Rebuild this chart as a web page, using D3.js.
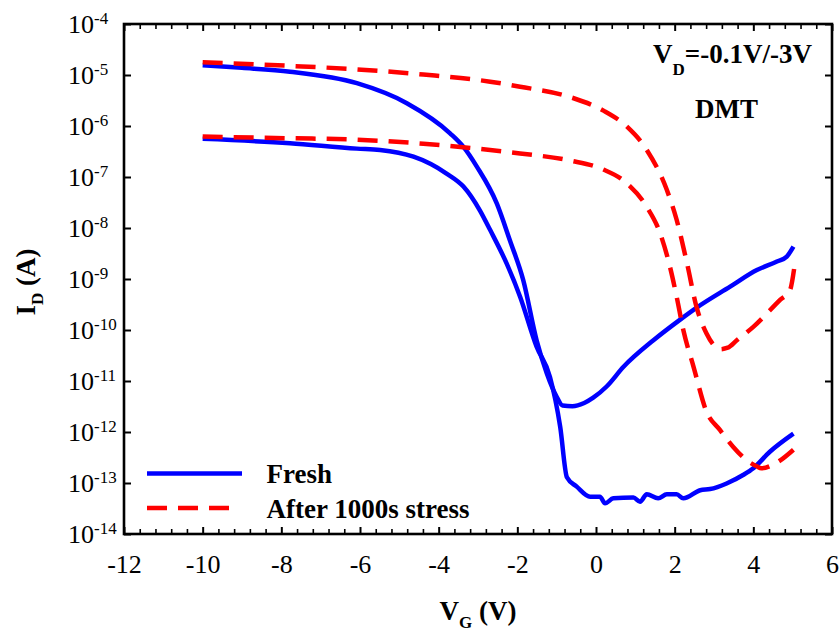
<!DOCTYPE html>
<html>
<head>
<meta charset="utf-8">
<script src="https://cdn.jsdelivr.net/npm/d3@7"></script>
<style>
  html, body { margin: 0; padding: 0; background: #fff; }
  svg { display: block; }
  text { font-family: "Liberation Serif", "Times New Roman", serif; fill: #000; }
</style>
</head>
<body>
<svg id="chart" width="840" height="631"></svg>
<script>
// Transfer curves I_D vs V_G, fresh device and after 1000 s stress.
// Each device is measured at V_D = -3 V (upper) and V_D = -0.1 V (lower).

const vgFreshHigh = [-10, -9, -7.78, -6.08, -4.81, -3.71, -3.37, -3.03, -2.52, -2.19, -1.85, -1.51, -1.25, -1.0, -0.85, -0.6, -0.3, -0.07, 0.27, 0.70, 1.46, 2.14, 2.56, 3.41, 4.09, 4.6, 4.85, 5.02];
const idFreshHigh = [1.55e-5, 1.38e-5, 1.16e-5, 6.9e-6, 2.8e-6, 7.2e-7, 3.9e-7, 1.6e-7, 3.0e-8, 5.75e-9, 9.5e-10, 6.3e-11, 1.4e-11, 4.9e-12, 3.3e-12, 3.2e-12, 3.7e-12, 4.7e-12, 7.8e-12, 1.9e-11, 6.3e-11, 1.6e-10, 2.75e-10, 7.1e-10, 1.5e-9, 2.2e-9, 2.75e-9, 4.3e-9];

const vgFreshLow = [-10, -7.78, -6.08, -5.49, -4.64, -4.2, -3.80, -3.37, -2.95, -2.69, -2.27, -1.93, -1.51, -1.17, -0.91, -0.74, -0.49, -0.15, 0.10, 0.23, 0.44, 0.95, 1.12, 1.29, 1.58, 1.80, 2.05, 2.22, 2.65, 2.90, 3.32, 3.75, 4.0, 4.42, 5.02];
const idFreshLow = [5.6e-7, 4.6e-7, 3.6e-7, 3.4e-7, 2.5e-7, 1.8e-7, 1.17e-7, 6.5e-8, 2.2e-8, 9.1e-9, 2.0e-9, 4.5e-10, 4.7e-11, 1.2e-11, 1.26e-12, 1.3e-13, 8.5e-14, 5.4e-14, 5.4e-14, 4.0e-14, 5.0e-14, 5.2e-14, 4.3e-14, 6.0e-14, 5.0e-14, 6.0e-14, 6.0e-14, 5.0e-14, 7.2e-14, 7.6e-14, 9.8e-14, 1.45e-13, 1.95e-13, 4.1e-13, 9.3e-13];

const vgStressHigh = [-10, -7.78, -6.08, -4.39, -2.69, -1.93, -0.66, 0.19, 0.78, 1.29, 1.80, 2.05, 2.31, 2.56, 2.81, 3.0, 3.15, 3.35, 3.58, 4.0, 4.68, 4.93, 5.05];
const idStressHigh = [1.78e-5, 1.51e-5, 1.29e-5, 1.02e-5, 7.4e-6, 5.9e-6, 3.7e-6, 2.0e-6, 9.8e-7, 3.4e-7, 5.6e-8, 1.45e-8, 2.1e-9, 2.75e-10, 8.5e-11, 5.0e-11, 4.2e-11, 4.5e-11, 6.3e-11, 1.15e-10, 3.9e-10, 6.0e-10, 1.86e-9];

const vgStressLow = [-10, -7.78, -6.08, -4.39, -2.86, -1.93, -0.66, 0.19, 0.78, 1.29, 1.63, 1.88, 2.05, 2.22, 2.48, 2.81, 3.15, 3.49, 3.83, 4.1, 4.2, 4.59, 5.02];
const idStressLow = [6.2e-7, 5.75e-7, 5.4e-7, 4.5e-7, 3.5e-7, 2.9e-7, 2.1e-7, 1.4e-7, 7.6e-8, 2.6e-8, 7.9e-9, 1.74e-9, 4.5e-10, 1.0e-10, 1.9e-11, 2.5e-12, 1.1e-12, 5.1e-13, 2.8e-13, 2.1e-13, 1.95e-13, 2.5e-13, 4.5e-13];

const xTickValues = [-12, -10, -8, -6, -4, -2, 0, 2, 4, 6];
const yTickExponents = [-14, -13, -12, -11, -10, -9, -8, -7, -6, -5, -4];
const legendLabels = ["Fresh", "After 1000s stress"];

const svg = d3.select("#chart");
const plotL = 124, plotR = 832, plotT = 24, plotB = 534;

const x = d3.scaleLinear().domain([-12, 6]).range([plotL, plotR]);
const y = d3.scaleLog().domain([1e-14, 1e-4]).range([plotB, plotT]);

const BLUE = "#0000ff", RED = "#ff0000";
const series = [
  { vg: vgFreshHigh, id: idFreshHigh, color: BLUE, dash: null },
  { vg: vgFreshLow, id: idFreshLow, color: BLUE, dash: null },
  { vg: vgStressHigh, id: idStressHigh, color: RED, dash: "20,11" },
  { vg: vgStressLow, id: idStressLow, color: RED, dash: "20,11" }
];

// minor x ticks every 0.4 V
const minorX = d3.range(0, 46).map(i => -12 + i * 0.4).filter(v => Math.abs(v / 2 - Math.round(v / 2)) > 1e-6);

function styleTicks(g, w) {
  g.select(".domain").remove();
  g.selectAll("line").attr("stroke", "#000").attr("stroke-width", w);
}

// bottom axis: labels + major ticks pointing inward
const gx = svg.append("g").attr("transform", `translate(0,${plotB})`)
  .call(d3.axisBottom(x).tickValues(xTickValues).tickSizeInner(-7).tickSizeOuter(0)
    .tickPadding(20.5).tickFormat(d => String(d)));
styleTicks(gx, 2);
gx.selectAll("text").attr("font-size", 26).attr("font-family", "Liberation Serif").attr("fill", "#000");

const gxm = svg.append("g").attr("transform", `translate(0,${plotB})`)
  .call(d3.axisBottom(x).tickValues(minorX).tickSizeInner(-5).tickSizeOuter(0).tickFormat(""));
styleTicks(gxm, 1.6);

// top axis ticks
const gt = svg.append("g").attr("transform", `translate(0,${plotT})`)
  .call(d3.axisTop(x).tickValues(xTickValues).tickSizeInner(-7).tickSizeOuter(0).tickFormat(""));
styleTicks(gt, 2);
const gtm = svg.append("g").attr("transform", `translate(0,${plotT})`)
  .call(d3.axisTop(x).tickValues(minorX).tickSizeInner(-5).tickSizeOuter(0).tickFormat(""));
styleTicks(gtm, 1.6);

// left and right axis ticks (decades)
const decades = yTickExponents.map(e => Math.pow(10, e));
const gl = svg.append("g").attr("transform", `translate(${plotL},0)`)
  .call(d3.axisLeft(y).tickValues(decades).tickSizeInner(-7).tickSizeOuter(0).tickFormat(""));
styleTicks(gl, 2);
const gr = svg.append("g").attr("transform", `translate(${plotR},0)`)
  .call(d3.axisRight(y).tickValues(decades).tickSizeInner(-7).tickSizeOuter(0).tickFormat(""));
styleTicks(gr, 2);

// y tick labels as 10^n
const ylab = svg.append("g");
yTickExponents.forEach(e => {
  const t = ylab.append("text")
    .attr("x", 68).attr("y", y(Math.pow(10, e)) + 9)
    .attr("font-size", 26);
  t.append("tspan").text("10");
  t.append("tspan").attr("font-size", 17).attr("dy", -9).text(String(e));
});

// curves
const line = d3.line()
  .x(d => x(d[0]))
  .y(d => y(d[1]))
  .curve(d3.curveMonotoneX);

const plot = svg.append("g");
series.forEach(s => {
  plot.append("path")
    .datum(d3.zip(s.vg, s.id))
    .attr("d", line)
    .attr("fill", "none")
    .attr("stroke", s.color)
    .attr("stroke-width", 4.5)
    .attr("stroke-linejoin", "round")
    .attr("stroke-dasharray", s.dash);
});

// frame
svg.append("rect")
  .attr("x", plotL).attr("y", plotT)
  .attr("width", plotR - plotL).attr("height", plotB - plotT)
  .attr("fill", "none").attr("stroke", "#000").attr("stroke-width", 2.6);

// legend
const legendRows = [
  { label: legendLabels[0], color: BLUE, dash: null, y: 473.5, x2: 242 },
  { label: legendLabels[1], color: RED, dash: "20,11", y: 508, x2: 230 }
];
legendRows.forEach(r => {
  svg.append("line")
    .attr("x1", 147).attr("x2", r.x2).attr("y1", r.y).attr("y2", r.y)
    .attr("stroke", r.color).attr("stroke-width", 4.5)
    .attr("stroke-dasharray", r.dash);
  svg.append("text")
    .attr("x", 266.5).attr("y", r.y + 9.5)
    .attr("font-size", 27).attr("font-weight", "bold")
    .text(r.label);
});

// annotations
const ann = svg.append("text").attr("x", 653).attr("y", 63)
  .attr("font-size", 27).attr("font-weight", "bold");
ann.append("tspan").text("V");
ann.append("tspan").attr("font-size", 17).attr("dy", 12).text("D");
ann.append("tspan").attr("dy", -12).text("=-0.1V/-3V");

svg.append("text").attr("x", 695).attr("y", 118)
  .attr("font-size", 27).attr("font-weight", "bold").text("DMT");

// axis titles
const xt = svg.append("text").attr("x", (plotL + plotR) / 2).attr("y", 620)
  .attr("text-anchor", "middle").attr("font-size", 27).attr("font-weight", "bold");
xt.append("tspan").text("V");
xt.append("tspan").attr("font-size", 17).attr("dy", 8).text("G");
xt.append("tspan").attr("dy", -8).text(" (V)");

const yt = svg.append("text")
  .attr("transform", `translate(35,282) rotate(-90)`)
  .attr("text-anchor", "middle").attr("font-size", 27).attr("font-weight", "bold");
yt.append("tspan").text("I");
yt.append("tspan").attr("font-size", 17).attr("dy", 8).text("D");
yt.append("tspan").attr("dy", -8).text(" (A)");
</script>
</body>
</html>
